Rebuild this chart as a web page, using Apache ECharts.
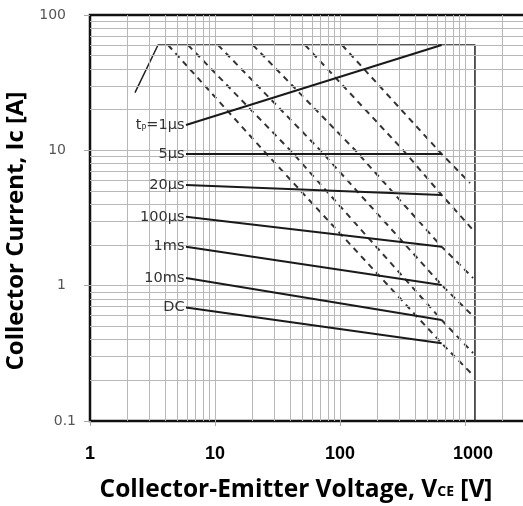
<!DOCTYPE html>
<html>
<head>
<meta charset="utf-8">
<script src="https://cdn.jsdelivr.net/npm/echarts@6/dist/echarts.min.js"></script>
<style>html,body{margin:0;padding:0;background:#fff}#c{width:523px;height:506px}</style>
</head>
<body>
<div id="c"></div>
<script>
// ---- data ----
const xTicks = [1, 10, 100, 1000];
const yTicks = [0.1, 1, 10, 100];
const gridX = [2,3,4,5,6,7,8,9,10,20,30,40,50,60,70,80,90,100,200,300,400,500,600,700,800,900,1000,2000,3000];
const gridY = [0.2,0.3,0.4,0.5,0.6,0.7,0.8,0.9,1,2,3,4,5,6,7,8,9,10,20,30,40,50,60,70,80,90];

const pulseNames = ['1μs', '5μs', '20μs', '100μs', '1ms', '10ms', 'DC'];
const pulseStartV = [5.86, 5.86, 5.86, 5.86, 5.86, 5.86, 5.86];
const pulseStartI = [15.4, 9.4, 5.54, 3.23, 1.94, 1.14, 0.69];
const pulseEndV   = [650, 650, 650, 650, 650, 650, 650];
const pulseEndI   = [60, 9.4, 4.68, 1.94, 1.01, 0.557, 0.375];

// dashed limit lines (V, A) for 5μs .. DC
const dash5us   = [[103.8, 60], [650, 9.4], [1096, 5.73]];
const dash20us  = [[52.5, 60], [319, 10.05], [650, 4.68], [1159, 2.58]];
const dash100us = [[20.1, 60], [131.8, 10.05], [650, 1.94], [1159, 1.14]];
const dash1ms   = [[10.57, 60], [69.2, 10.05], [650, 1.01], [1202, 0.576]];
const dash10ms  = [[6.08, 60], [39.8, 10.05], [650, 0.557], [1159, 0.318]];
const dashDC    = [[4.21, 60], [24.2, 10.05], [650, 0.375], [1159, 0.218]];

// SOA boundary
const boundary = [[2.29, 26.7], [3.5, 60], [1200, 60], [1200, 0.1]];

// ---- chart ----
const chart = echarts.init(document.getElementById('c'), null, {renderer: 'canvas'});
const isPow = v => Math.abs(Math.log10(v) - Math.round(Math.log10(v))) < 1e-6;

const series = [];
series.push({
  type: 'line', data: [[1, 1]], symbol: 'none', lineStyle: {opacity: 0}, silent: true, z: 1,
  markLine: {
    silent: true, symbol: 'none', animation: false,
    label: {show: false},
    lineStyle: {color: '#b8b8b8', width: 1, type: 'solid'},
    data: gridX.map(v => ({xAxis: v})).concat(gridY.map(v => ({yAxis: v})))
  }
});
series.push({
  type: 'line', data: boundary, symbol: 'none', z: 3,
  lineStyle: {color: '#222', width: 1.5}
});
[dash5us, dash20us, dash100us, dash1ms, dash10ms, dashDC].forEach(d => {
  series.push({
    type: 'line', data: d, symbol: 'none', z: 4,
    lineStyle: {color: '#333', width: 2, type: [6, 5]}
  });
});
pulseNames.forEach((name, i) => {
  const fmt = i === 0 ? '{a|t}{b|P}{a|=1μs}' : '{a|' + name + '}';
  series.push({
    type: 'line', symbol: 'circle', symbolSize: 1, showSymbol: true, z: 5,
    itemStyle: {color: 'rgba(0,0,0,0)'},
    lineStyle: {color: '#1a1a1a', width: 2},
    label: {show: false},
    data: [
      {value: [pulseStartV[i], pulseStartI[i]],
       label: {show: true, position: 'left', distance: 1, formatter: fmt,
         rich: {
           a: {fontFamily: 'DejaVu Sans', fontSize: 14.5, color: '#333'},
           b: {fontFamily: 'DejaVu Sans', fontSize: 8, color: '#333', verticalAlign: 'bottom', padding: [7, 0, 0, 0]}
         }}},
      [pulseEndV[i], pulseEndI[i]]
    ]
  });
});

chart.setOption({
  animation: false,
  grid: {left: 90, top: 15, right: -4, bottom: 85, outerBoundsMode: 'none', containLabel: false,
         show: true, borderColor: '#111', borderWidth: 2.5, backgroundColor: 'transparent'},
  xAxis: {
    type: 'log', logBase: 10, min: 1, max: 3130,
    axisLine: {show: false},
    axisTick: {show: true, length: 5, lineStyle: {color: '#aaa'}},
    splitLine: {show: false},
    axisLabel: {
      margin: 24, fontFamily: 'Liberation Sans', fontWeight: 'bold', fontSize: 18, color: '#000',
      formatter: v => {
        if (!(isPow(v) && v < 2000)) return '';
        const t = xTicks.find(k => Math.abs(Math.log10(k) - Math.log10(v)) < 1e-6);
        return t === 1000 ? '{r|' + t + '}' : String(t);
      },
      rich: {r: {fontFamily: 'Liberation Sans', fontWeight: 'bold', fontSize: 18, color: '#000', padding: [0, 0, 0, 16]}}
    },
    name: '{n|Collector-Emitter Voltage, V}{s|CE}{n| [V]}',
    nameLocation: 'middle', nameGap: 57,
    nameTextStyle: {
      padding: [0, 25, 0, 0],
      rich: {
        n: {fontFamily: 'Open Sans', fontWeight: 'bold', fontSize: 24.5, color: '#000'},
        s: {fontFamily: 'Open Sans', fontWeight: 'bold', fontSize: 14, color: '#000', verticalAlign: 'bottom', padding: [0, 0, 4, 0]}
      }
    }
  },
  yAxis: {
    type: 'log', logBase: 10, min: 0.1, max: 100,
    axisLine: {show: false},
    axisTick: {show: true, length: 6, lineStyle: {color: '#aaa'}},
    splitLine: {show: false},
    axisLabel: {
      margin: 14, fontFamily: 'DejaVu Sans', fontSize: 14, color: '#555',
      formatter: v => {
        const t = yTicks.find(k => Math.abs(Math.log10(k) - Math.log10(v)) < 1e-6);
        if (t === undefined) return '';
        return t === 0.1 ? String(t) : '{p|' + t + '}';
      },
      rich: {p: {fontFamily: 'DejaVu Sans', fontSize: 14, color: '#555', padding: [0, 10, 0, 0]}}
    },
    name: 'Collector Current, Ic [A]',
    nameLocation: 'middle', nameGap: 55, nameRotate: 90,
    nameTextStyle: {fontFamily: 'Open Sans', fontWeight: 'bold', fontSize: 24, color: '#000', padding: [0, 26, 0, 0]}
  },
  series: series
});
</script>
</body>
</html>
